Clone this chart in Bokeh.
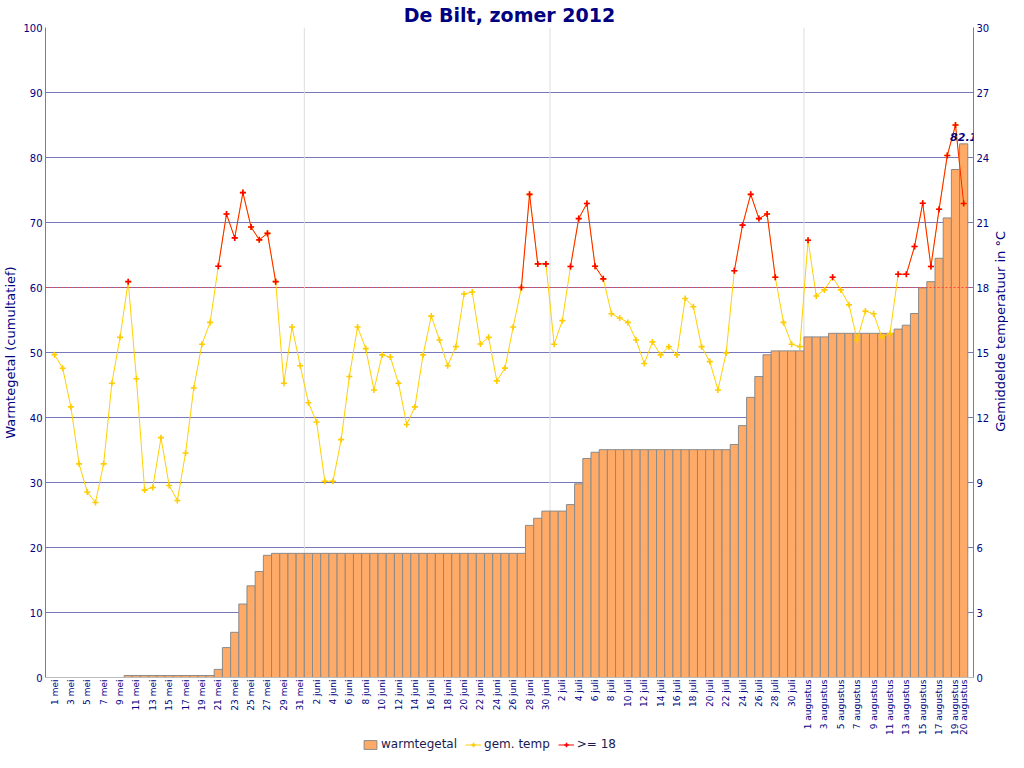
import math
from bokeh.plotting import figure
from bokeh.layouts import column, row
from bokeh.models import (Range1d, LinearAxis, FixedTicker, Span, Label, Legend,
                          LegendItem)
from bokeh.embed import file_html
from bokeh.resources import INLINE

# ---- data -------------------------------------------------------------
months = ["mei", "juni", "juli", "augustus"]
month_days = [31, 30, 31, 20]
dates = [f"{d} {m}" for m, n in zip(months, month_days) for d in range(1, n + 1)]

# mean daily temperature (°C)
temp_mei = [14.9, 14.27, 12.49, 9.86, 8.56, 8.08, 9.86, 13.58, 15.7, 18.27,
            13.79, 8.65, 8.77, 11.07, 8.86, 8.17, 10.36, 13.36, 15.38, 16.39,
            18.98, 21.39, 20.29, 22.38, 20.79, 20.2, 20.5, 18.27, 13.58, 16.18,
            14.39]
temp_juni = [12.68, 11.79, 9.06, 9.06, 10.98, 13.89, 16.18, 15.18, 13.27, 14.89,
             14.79, 13.58, 11.68, 12.49, 14.89, 16.68, 15.58, 14.39, 15.27, 17.7,
             17.79, 15.39, 15.7, 13.69, 14.28, 16.18, 18.0, 22.3, 19.09, 19.09]
temp_juli = [15.38, 16.47, 18.97, 21.18, 21.88, 18.98, 18.4, 16.79, 16.59, 16.39,
             15.58, 14.49, 15.49, 14.89, 15.27, 14.89, 17.49, 17.11, 15.27, 14.58,
             13.27, 14.98, 18.77, 20.88, 22.3, 21.18, 21.39, 18.47, 16.39, 15.38,
             15.27]
temp_aug = [20.18, 17.61, 17.89, 18.47, 17.89, 17.2, 15.58, 16.91, 16.79, 15.71,
            15.88, 18.61, 18.61, 19.89, 21.89, 18.97, 21.61, 24.09, 25.5, 21.88]

# cumulative warmtegetal
warm_mei = [0, 0, 0, 0, 0, 0, 0, 0, 0, 0.3,
            0.3, 0.3, 0.3, 0.3, 0.3, 0.3, 0.3, 0.3, 0.3, 0.3,
            1.25, 4.6, 6.95, 11.3, 14.1, 16.3, 18.8, 19.1, 19.1, 19.1,
            19.1]
warm_juni = [19.1, 19.1, 19.1, 19.1, 19.1, 19.1, 19.1, 19.1, 19.1, 19.1,
             19.1, 19.1, 19.1, 19.1, 19.1, 19.1, 19.1, 19.1, 19.1, 19.1,
             19.1, 19.1, 19.1, 19.1, 19.1, 19.1, 19.1, 23.4, 24.5, 25.6]
warm_juli = [25.6, 25.6, 26.6, 29.8, 33.7, 34.65, 35.05, 35.05, 35.05, 35.05,
             35.05, 35.05, 35.05, 35.05, 35.05, 35.05, 35.05, 35.05, 35.05, 35.05,
             35.05, 35.05, 35.85, 38.75, 43.1, 46.3, 49.65, 50.25, 50.25, 50.25,
             50.25]
warm_aug = [52.4, 52.4, 52.4, 52.95, 52.95, 52.95, 52.95, 52.95, 52.95, 52.95,
            52.95, 53.6, 54.2, 56.0, 59.95, 60.9, 64.5, 70.7, 78.15, 82.1]

temps = temp_mei + temp_juni + temp_juli + temp_aug
warmte = warm_mei + warm_juni + warm_juli + warm_aug
threshold = 18
idx = list(range(len(dates)))
hot = [t if t >= threshold else float("nan") for t in temps]

left_ticks = list(range(0, 101, 10))
right_ticks = list(range(0, 31, 3))
x_ticks = list(range(0, len(dates), 2)) + [len(dates) - 1]
month_edges = [30.5, 60.5, 91.5]
X_START, X_END = -1.1, 112.2

NAVY = "#000080"
AXIS = "#7777bb"
FONT = "DejaVu Sans"
BAR_FILL = "#FFAA66"
BAR_LINE = "#8a8a8a"
YEL = "#FFCC00"
YEL_LINE = "#FFD000"
RED = "#ff0000"
MARKER = "cross"
MSIZE = 6
MLW = 1.6

MAIN_W, MAIN_H = 992, 738
STRIP_W = 1008 - MAIN_W
LEG_H = 14

# ---- main figure ------------------------------------------------------
p = figure(width=MAIN_W, height=MAIN_H, output_backend="svg",
           toolbar_location=None,
           x_range=Range1d(X_START, X_END), y_range=Range1d(0, 100),
           title="De Bilt, zomer 2012",
           min_border_left=0, min_border_right=0, min_border_top=0,
           min_border_bottom=0)
p.extra_y_ranges = {"temp": Range1d(0, 30)}
p.outline_line_color = None

p.title.align = "center"
p.title.text_font = FONT
p.title.text_font_size = "19px"
p.title.text_font_style = "bold"
p.title.text_color = NAVY
p.title.standoff = 3
p.title.offset = 9

p.xgrid.visible = False
p.ygrid.ticker = FixedTicker(ticks=left_ticks)
p.ygrid.grid_line_color = AXIS
p.ygrid.grid_line_width = 1

for loc in month_edges:
    p.add_layout(Span(location=loc, dimension="height", line_color="#dddddd",
                      line_width=1, level="underlay"))

bars = p.vbar(x=idx, top=warmte, width=1.0, bottom=0, fill_color=BAR_FILL,
              line_color=BAR_LINE, line_width=1)

p.add_layout(Span(location=threshold, dimension="width", y_range_name="temp",
                  line_color="#ff3333", line_width=1, line_dash="2 2",
                  line_alpha=0.8))

p.line(idx, temps, y_range_name="temp", line_color=YEL_LINE, line_width=1)
p.scatter(idx, temps, y_range_name="temp", marker=MARKER, size=MSIZE,
          line_color=YEL, line_width=MLW)
p.line(idx, hot, y_range_name="temp", line_color=RED, line_width=1,
       line_alpha=0.85)
p.scatter(idx, hot, y_range_name="temp", marker=MARKER, size=MSIZE,
          line_color=RED, line_width=MLW)

p.add_layout(Label(x=idx[-1], y=warmte[-1], text=f"{warmte[-1]:.1f}",
                   text_font=FONT, text_font_size="11px",
                   text_font_style="bold italic", text_color=NAVY,
                   text_align="center", text_baseline="bottom", y_offset=3))

# left axis
la = p.yaxis[0]
la.ticker = FixedTicker(ticks=left_ticks)
la.axis_label = "Warmtegetal (cumultatief)"
la.axis_label_text_font = FONT
la.axis_label_text_font_size = "13px"
la.axis_label_text_font_style = "normal"
la.axis_label_text_color = NAVY
la.axis_label_standoff = 2
la.major_label_text_font = FONT
la.major_label_text_font_size = "10px"
la.major_label_text_color = NAVY
la.major_label_standoff = 3
la.major_tick_out = 0
la.major_tick_in = 0
la.minor_tick_out = 0
la.minor_tick_in = 0
la.axis_line_color = AXIS

# right axis (tick labels only; its title sits in a narrow strip beside)
ra = LinearAxis(y_range_name="temp", ticker=FixedTicker(ticks=right_ticks))
ra.major_label_text_font = FONT
ra.major_label_text_font_size = "10px"
ra.major_label_text_color = NAVY
ra.major_label_standoff = 3
ra.axis_label_standoff = 0
ra.major_tick_out = 0
ra.major_tick_in = 0
ra.minor_tick_out = 0
ra.minor_tick_in = 0
ra.axis_line_color = AXIS
p.add_layout(ra, "right")

# x axis
xa = p.xaxis[0]
xa.ticker = FixedTicker(ticks=x_ticks)
xa.major_label_overrides = {i: dates[i] for i in x_ticks}
xa.major_label_orientation = math.pi / 2
xa.major_label_text_font = FONT
xa.major_label_text_font_size = "9px"
xa.major_label_text_color = NAVY
xa.major_label_standoff = 2
xa.axis_label_standoff = 0
xa.major_tick_out = 0
xa.major_tick_in = 0
xa.minor_tick_out = 0
xa.minor_tick_in = 0
xa.axis_line_color = "#bbbbbb"

# ---- right axis title strip ------------------------------------------
rs = figure(width=STRIP_W, height=MAIN_H, output_backend="svg",
            toolbar_location=None, x_range=Range1d(0, 1),
            y_range=Range1d(0, MAIN_H),
            min_border_left=0, min_border_right=0, min_border_top=0,
            min_border_bottom=0)
rs.axis.visible = False
rs.grid.visible = False
rs.outline_line_color = None
rs.add_layout(Label(x=0.5, y=MAIN_H - 345, text="Gemiddelde temperatuur in °C",
                    angle=math.pi / 2, text_font=FONT, text_font_size="13px",
                    text_color=NAVY, text_align="center",
                    text_baseline="middle"))

# ---- legend strip -----------------------------------------------------
nan = float("nan")
lg = figure(width=1008, height=LEG_H, output_backend="svg",
            toolbar_location=None, x_range=Range1d(0, 1), y_range=Range1d(0, 1),
            min_border_left=0, min_border_right=0, min_border_top=0,
            min_border_bottom=0)
lg.axis.visible = False
lg.grid.visible = False
lg.outline_line_color = None
lb = lg.vbar(x=[nan], top=[nan], width=1, fill_color=BAR_FILL, line_color=BAR_LINE)
l1 = lg.line(x=[nan], y=[nan], line_color=YEL_LINE, line_width=1)
s1 = lg.scatter(x=[nan], y=[nan], marker=MARKER, size=MSIZE, line_color=YEL,
                line_width=MLW)
l2 = lg.line(x=[nan], y=[nan], line_color=RED, line_width=1)
s2 = lg.scatter(x=[nan], y=[nan], marker=MARKER, size=MSIZE, line_color=RED,
                line_width=MLW)
legend = Legend(items=[
    LegendItem(label="warmtegetal", renderers=[lb]),
    LegendItem(label="gem. temp", renderers=[l1, s1]),
    LegendItem(label=">= 18", renderers=[l2, s2]),
], orientation="horizontal", location=(362, 1))
legend.border_line_color = None
legend.background_fill_alpha = 0
legend.label_text_font = FONT
legend.label_text_font_size = "12px"
legend.label_text_color = "#1a1a50"
legend.label_height = 12
legend.glyph_width = 16
legend.glyph_height = 11
legend.label_standoff = 3
legend.spacing = 8
legend.padding = 0
legend.margin = 0
lg.add_layout(legend)

layout = column(row(p, rs, spacing=0), lg, spacing=0)
open("out.html", "w").write(file_html(layout, INLINE))
